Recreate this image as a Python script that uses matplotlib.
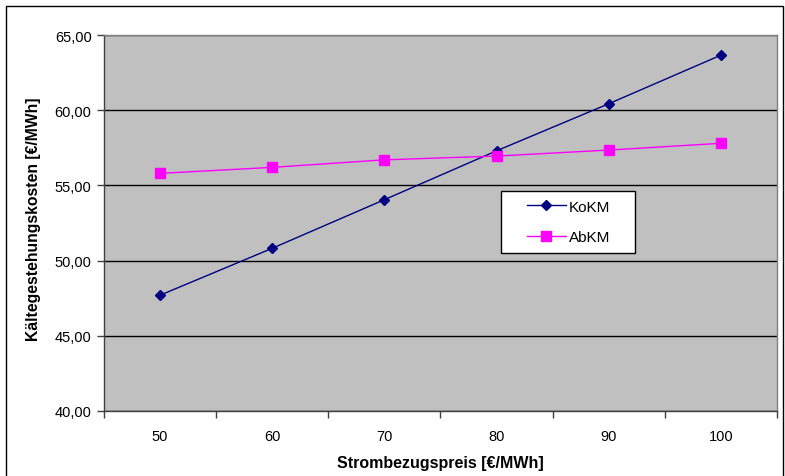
import matplotlib
matplotlib.use("Agg")
import matplotlib.pyplot as plt
from matplotlib.patches import Rectangle
from matplotlib.ticker import FixedLocator, FuncFormatter

# Strombezugspreis categories [€/MWh]
preise = [50, 60, 70, 80, 90, 100]
# Kältegestehungskosten [€/MWh]
kokm = [47.70, 50.82, 54.05, 57.30, 60.43, 63.66]
abkm = [55.80, 56.20, 56.70, 56.95, 57.35, 57.80]

plt.rcParams["font.family"] = ["Liberation Sans", "DejaVu Sans"]

W, H = 785, 477
fig = plt.figure(figsize=(W / 100, H / 100), dpi=100)
fig.patch.set_facecolor("white")

# outer chart frame
fig.patches.append(Rectangle((6 / W, -0.05), 777 / W, 1 - 7 / H + 0.05,
                             transform=fig.transFigure, fill=False,
                             edgecolor="black", linewidth=1.0))

ax = fig.add_axes([104 / W, 1 - 412 / H, 673 / W, 376 / H])
ax.set_facecolor("#C0C0C0")

x = list(range(len(preise)))
ax.plot(x, kokm, color="#000080", marker="D", markersize=5.5, linewidth=1.0,
        label="KoKM", zorder=3)
ax.plot(x, abkm, color="#FF00FF", marker="s", markersize=6.5, linewidth=1.0,
        label="AbKM", zorder=3)

ax.set_xlim(-0.5, len(preise) - 0.5)
ax.set_ylim(40, 65)

# y axis
yt = [40, 45, 50, 55, 60, 65]
ax.set_yticks(yt)
ax.yaxis.set_major_formatter(FuncFormatter(lambda v, p: f"{v:.2f}".replace(".", ",")))
ax.grid(axis="y", color="black", linewidth=1.0, zorder=1)
ax.set_axisbelow(True)

# x axis: labels at category centres, tick marks between categories
ax.set_xticks(x)
ax.set_xticklabels([str(p) for p in preise])
ax.xaxis.set_minor_locator(FixedLocator([i - 0.5 for i in range(len(preise) + 1)]))
ax.tick_params(axis="x", which="major", length=0, pad=13, labelsize=10.5)
ax.tick_params(axis="x", which="minor", length=5, width=1.0, color="#404040")
ax.tick_params(axis="y", which="major", length=5, width=1.0, color="#404040",
               pad=4, labelsize=10.5)

for side in ["left", "bottom"]:
    ax.spines[side].set_color("#404040")
    ax.spines[side].set_linewidth(1.0)
for side in ["top", "right"]:
    ax.spines[side].set_color("#808080")
    ax.spines[side].set_linewidth(1.0)

ax.set_xlabel("Strombezugspreis [€/MWh]", fontsize=11.5, fontweight="bold",
              va="center")
ax.xaxis.set_label_coords(0.5, -(464 - 412) / 376)
ax.set_ylabel("Kältegestehungskosten [€/MWh]", fontsize=11.3, fontweight="bold",
              va="center")
ax.yaxis.set_label_coords(-(104 - 34) / 673, 0.5 + 5 / 376)

# legend box with white fill, entries placed inside it
box = Rectangle((501 / W, 1 - 254 / H), 134 / W, 62 / H,
                transform=fig.transFigure, facecolor="white",
                edgecolor="black", linewidth=1.0, zorder=4, clip_on=False)
ax.add_artist(box)
leg = ax.legend(loc="center left", bbox_to_anchor=(527 / W, 1 - 223 / H),
                bbox_transform=fig.transFigure, borderaxespad=0, borderpad=0,
                frameon=False, fontsize=11, handlelength=2.55,
                handletextpad=0.2, labelspacing=1.1)
leg.set_zorder(5)

fig.savefig("out.png", dpi=100)
